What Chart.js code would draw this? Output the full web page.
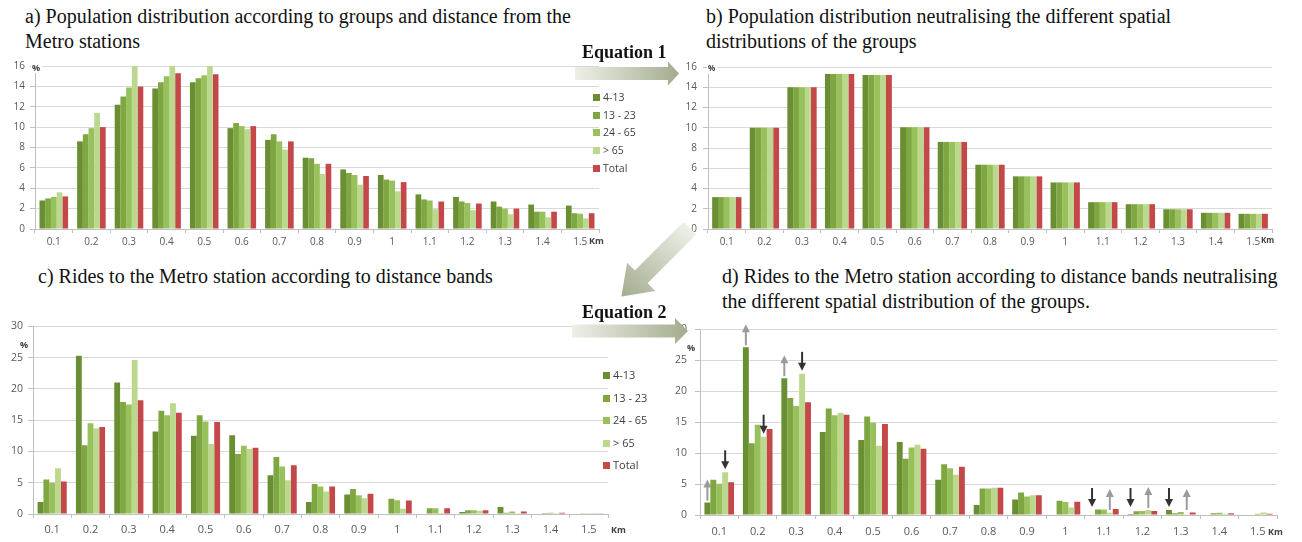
<!DOCTYPE html>
<html lang="en">
  <head>
    <meta charset="UTF-8" />
    <title>Population and rides by distance from Metro stations</title>
    <script src="https://cdn.jsdelivr.net/npm/chart.js"></script>
    <style>
      body { margin: 0; background: #fff; }
      #page { position: relative; width: 1302px; height: 542px; overflow: hidden; }
      .title { position: absolute; font-family: "Liberation Serif", serif; font-size: 20px; line-height: 25px; color: #111; white-space: nowrap; }
      .eq { position: absolute; font-family: "Liberation Serif", serif; font-weight: bold; font-size: 18px; color: #111; }
      canvas { position: absolute; }
      .legend { position: absolute; font-family: "Open Sans", sans-serif; font-size: 10.5px; color: #404040; }
      .legend span { display: inline-block; width: 7px; height: 7px; margin-right: 3px; }
      #arrows { position: absolute; left: 0; top: 0; }
    </style>
  </head>
  <body>
    <div id="page">
      <div class="title" style="left:25px; top:4px">a) Population distribution according to groups and distance from the<br>Metro stations</div>
      <div class="title" style="left:706px; top:4px">b) Population distribution neutralising the different spatial<br>distributions of the groups</div>
      <div class="title" style="left:38px; top:264px">c) Rides to the Metro station according to distance bands</div>
      <div class="title" style="left:722px; top:264px">d) Rides to the Metro station according to distance bands neutralising<br>the different spatial distribution of the groups.</div>

      <canvas id="chartA" width="612" height="200" style="left:0px; top:55px"></canvas>
      <canvas id="chartB" width="622" height="200" style="left:680px; top:55px"></canvas>
      <canvas id="chartC" width="640" height="225" style="left:0px; top:315px"></canvas>
      <canvas id="chartD" width="632" height="225" style="left:670px; top:315px"></canvas>

      <div class="legend" id="legendA" style="left:593px; top:89px; line-height:17.7px"></div>
      <div class="legend" id="legendC" style="left:603px; top:364px; line-height:22.5px; font-size:11px"></div>

      <svg id="arrows" width="1302" height="542">
        <defs>
          <linearGradient id="arrowFill" x1="0" y1="0" x2="1" y2="0">
            <stop offset="0" stop-color="#eef0e9" />
            <stop offset="1" stop-color="#a3ac8e" />
          </linearGradient>
        </defs>
        <g id="arrowGroup"></g>
      </svg>
      <div class="eq" style="left:582px; top:42px">Equation 1</div>
      <div class="eq" style="left:582px; top:302px">Equation 2</div>
    </div>

    <script>
      var distanceLabels = ["0.1", "0.2", "0.3", "0.4", "0.5", "0.6", "0.7", "0.8", "0.9", "1", "1.1", "1.2", "1.3", "1.4", "1.5"];
      var groupNames = ["4-13", "13 - 23", "24 - 65", "> 65", "Total"];
      var groupColors = ["#6a8f33", "#7ea741", "#98c15b", "#bcd88f", "#c4474a"];

      // a) population by group
      var popA_4_13  = [2.8, 8.6, 12.2, 13.8, 14.4, 9.9, 8.75, 7.0, 5.85, 5.3, 3.4, 3.15, 2.7, 2.4, 2.3];
      var popA_13_23 = [3.0, 9.3, 13.0, 14.4, 14.8, 10.4, 9.3, 6.95, 5.5, 4.85, 2.9, 2.7, 2.2, 1.7, 1.55];
      var popA_24_65 = [3.15, 9.9, 13.9, 15.0, 15.1, 10.1, 8.6, 6.4, 5.3, 4.75, 2.8, 2.55, 2.0, 1.7, 1.5];
      var popA_65    = [3.6, 11.4, 16.8, 17.0, 16.6, 9.8, 7.8, 5.4, 4.35, 3.7, 1.95, 1.85, 1.45, 1.15, 1.05];
      var popA_total = [3.2, 10.0, 14.0, 15.3, 15.2, 10.1, 8.6, 6.4, 5.2, 4.6, 2.7, 2.5, 2.0, 1.7, 1.55];

      // b) neutralised population (same for every group)
      var popB = [3.15, 10.0, 14.0, 15.3, 15.2, 10.05, 8.6, 6.35, 5.2, 4.6, 2.65, 2.45, 1.95, 1.6, 1.5];

      // c) rides
      var ridesC_4_13  = [1.9, 25.3, 21.0, 13.2, 12.5, 12.6, 6.2, 1.9, 3.1, 0, 0, 0.3, 1.1, 0, 0];
      var ridesC_13_23 = [5.5, 11.0, 17.9, 16.5, 15.8, 9.6, 9.1, 4.8, 4.0, 2.45, 0.9, 0.6, 0.2, 0.15, 0.05];
      var ridesC_24_65 = [5.0, 14.5, 17.5, 15.8, 14.8, 10.9, 7.6, 4.4, 3.0, 2.2, 0.9, 0.6, 0.4, 0.2, 0.1];
      var ridesC_65    = [7.3, 13.7, 24.6, 17.7, 11.2, 10.4, 5.4, 3.6, 2.5, 0.85, 0.15, 0.5, 0.05, 0.05, 0.15];
      var ridesC_total = [5.2, 13.9, 18.2, 16.2, 14.7, 10.6, 7.8, 4.4, 3.25, 2.15, 0.9, 0.6, 0.4, 0.2, 0.1];

      // d) neutralised rides
      var ridesD_4_13  = [2.0, 27.1, 22.1, 13.4, 12.1, 11.8, 5.7, 1.6, 2.5, 0, 0, 0.15, 0.8, 0, 0];
      var ridesD_13_23 = [5.7, 11.6, 18.9, 17.2, 15.9, 9.1, 8.2, 4.3, 3.65, 2.3, 0.9, 0.6, 0.3, 0.3, 0.1];
      var ridesD_24_65 = [5.05, 14.6, 17.6, 16.1, 14.9, 10.9, 7.55, 4.3, 3.0, 2.1, 0.9, 0.65, 0.5, 0.35, 0.2];
      var ridesD_65    = [6.9, 12.65, 22.8, 16.5, 11.2, 11.35, 6.5, 4.4, 3.2, 1.2, 0.35, 0.8, 0.05, 0.2, 0.4];
      var ridesD_total = [5.3, 13.9, 18.2, 16.2, 14.7, 10.7, 7.8, 4.4, 3.2, 2.15, 0.95, 0.65, 0.4, 0.3, 0.2];

      // arrows in d): [group index, distance index]
      var upArrows = [[0, 0], [0, 1], [0, 2], [3, 10], [3, 11], [3, 12]];
      var downArrows = [[3, 0], [3, 1], [3, 2], [0, 10], [0, 11], [0, 12]];

      // draws the "%" and "Km" axis marks
      var axisMarks = {
        id: 'axisMarks',
        afterDraw: function (chart, args, o) {
          var ctx = chart.ctx, a = chart.chartArea;
          ctx.save();
          ctx.font = 'bold ' + o.size + 'px "Open Sans", sans-serif';
          ctx.textBaseline = 'middle';
          ctx.textAlign = 'left';
          var w = ctx.measureText('%').width;
          ctx.fillStyle = '#fff';
          ctx.fillRect(a.left + o.pctX - 1, a.top + o.pctY - 5, w + 3, 10);
          ctx.fillStyle = '#404040';
          ctx.fillText('%', a.left + o.pctX, a.top + o.pctY);
          ctx.fillText('Km', a.right + o.kmX, a.bottom + o.kmY);
          ctx.restore();
        }
      };

      function drawArrow(ctx, x, y1, y2, color) {
        var dir = y2 < y1 ? -1 : 1;
        ctx.strokeStyle = color;
        ctx.fillStyle = color;
        ctx.lineWidth = 2;
        ctx.beginPath();
        ctx.moveTo(x, y1);
        ctx.lineTo(x, y2 - dir * 6);
        ctx.stroke();
        ctx.beginPath();
        ctx.moveTo(x, y2);
        ctx.lineTo(x - 4, y2 - dir * 8);
        ctx.lineTo(x + 4, y2 - dir * 8);
        ctx.closePath();
        ctx.fill();
      }

      var shiftArrows = {
        id: 'shiftArrows',
        afterDatasetsDraw: function (chart) {
          var ctx = chart.ctx;
          var base = chart.scales.y.getPixelForValue(0);
          ctx.save();
          upArrows.forEach(function (p) {
            var bar = chart.getDatasetMeta(p[0]).data[p[1]];
            var tail = Math.min(bar.y - 2, base - 5);
            drawArrow(ctx, bar.x, tail, tail - 21, '#9b9b9b');
          });
          downArrows.forEach(function (p) {
            var bar = chart.getDatasetMeta(p[0]).data[p[1]];
            var tip = Math.min(bar.y - 3, base - 8);
            drawArrow(ctx, bar.x, tip - 19, tip, '#333333');
          });
          ctx.restore();
        }
      };

      function panelChart(id, series, cfg) {
        return new Chart(document.getElementById(id), {
          type: 'bar',
          data: {
            labels: distanceLabels,
            datasets: series.map(function (vals, i) {
              return {
                label: groupNames[i],
                data: vals,
                backgroundColor: groupColors[i],
                borderWidth: 0,
                categoryPercentage: cfg.cat,
                barPercentage: 1.0
              };
            })
          },
          options: {
            responsive: false,
            animation: false,
            layout: { padding: cfg.pad },
            plugins: {
              legend: { display: false },
              tooltip: { enabled: false },
              axisMarks: cfg.marks
            },
            scales: {
              x: {
                grid: { drawOnChartArea: false, tickLength: 4, color: '#bfbfbf' },
                border: { color: '#bfbfbf' },
                ticks: {
                  color: '#595959',
                  font: { family: '"Open Sans", sans-serif', size: cfg.xFont },
                  padding: cfg.xPad,
                  maxRotation: 0,
                  autoSkip: false
                },
                afterFit: function (s) { s.height = cfg.xH; }
              },
              y: {
                min: 0,
                max: cfg.max,
                grid: { color: '#d9d9d9', tickLength: 5, tickColor: '#bfbfbf' },
                border: { color: '#bfbfbf' },
                ticks: {
                  stepSize: cfg.step,
                  color: '#595959',
                  font: { family: '"Open Sans", sans-serif', size: cfg.yFont },
                  padding: cfg.yPad
                },
                afterFit: function (s) { s.width = cfg.yW; }
              }
            }
          },
          plugins: cfg.extra ? [axisMarks, cfg.extra] : [axisMarks]
        });
      }

      panelChart('chartA', [popA_4_13, popA_13_23, popA_24_65, popA_65, popA_total], {
        cat: 0.76, max: 16, step: 2, pad: { top: 10, right: 13, bottom: 4, left: 0 },
        yW: 35, xH: 22, xPad: 3, yPad: 5, xFont: 10, yFont: 10,
        marks: { size: 9, pctX: -3, pctY: 2, kmX: -10, kmY: 12 }
      });

      panelChart('chartB', [popB, popB, popB, popB, popB], {
        cat: 0.78, max: 16, step: 2, pad: { top: 10, right: 30, bottom: 4, left: 0 },
        yW: 28, xH: 22, xPad: 3, yPad: 6, xFont: 10, yFont: 10,
        marks: { size: 8, pctX: 0, pctY: 2, kmX: -11, kmY: 12 }
      });

      panelChart('chartC', [ridesC_4_13, ridesC_13_23, ridesC_24_65, ridesC_65, ridesC_total], {
        cat: 0.76, max: 30, step: 5, pad: { top: 8, right: 32, bottom: 2, left: 0 },
        yW: 33, xH: 24, xPad: 5, yPad: 5, xFont: 11, yFont: 10.5,
        marks: { size: 9, pctX: -13, pctY: 19, kmX: 3, kmY: 16 }
      });

      panelChart('chartD', [ridesD_4_13, ridesD_13_23, ridesD_24_65, ridesD_65, ridesD_total], {
        cat: 0.77, max: 30, step: 5, pad: { top: 8, right: 25, bottom: 1, left: 0 },
        yW: 30, xH: 24, xPad: 6, yPad: 8, xFont: 11, yFont: 10.5,
        marks: { size: 9, pctX: -13, pctY: 19, kmX: -9, kmY: 17 },
        extra: shiftArrows
      });

      // html legends
      function fillLegend(id) {
        var box = document.getElementById(id);
        groupNames.forEach(function (name, i) {
          var row = document.createElement('div');
          row.innerHTML = '<span style="background:' + groupColors[i] + '"></span>' + name;
          box.appendChild(row);
        });
      }
      fillLegend('legendA');
      fillLegend('legendC');

      // big connector arrows between the panels
      function bigArrow(x, y, angle, len, shaft, head, headLen) {
        var pts = [
          [0, -shaft / 2], [len - headLen, -shaft / 2], [len - headLen, -head / 2],
          [len, 0], [len - headLen, head / 2], [len - headLen, shaft / 2], [0, shaft / 2]
        ].map(function (p) { return p.join(','); }).join(' ');
        var poly = document.createElementNS('http://www.w3.org/2000/svg', 'polygon');
        poly.setAttribute('points', pts);
        poly.setAttribute('fill', 'url(#arrowFill)');
        poly.setAttribute('transform', 'translate(' + x + ',' + y + ') rotate(' + angle + ')');
        document.getElementById('arrowGroup').appendChild(poly);
      }
      bigArrow(575, 73.5, 0, 104, 13, 24, 11);
      bigArrow(572, 331, 0, 116, 13, 26, 13);
      bigArrow(690, 228, 135, 97, 18, 40, 28);
    </script>
  </body>
</html>
